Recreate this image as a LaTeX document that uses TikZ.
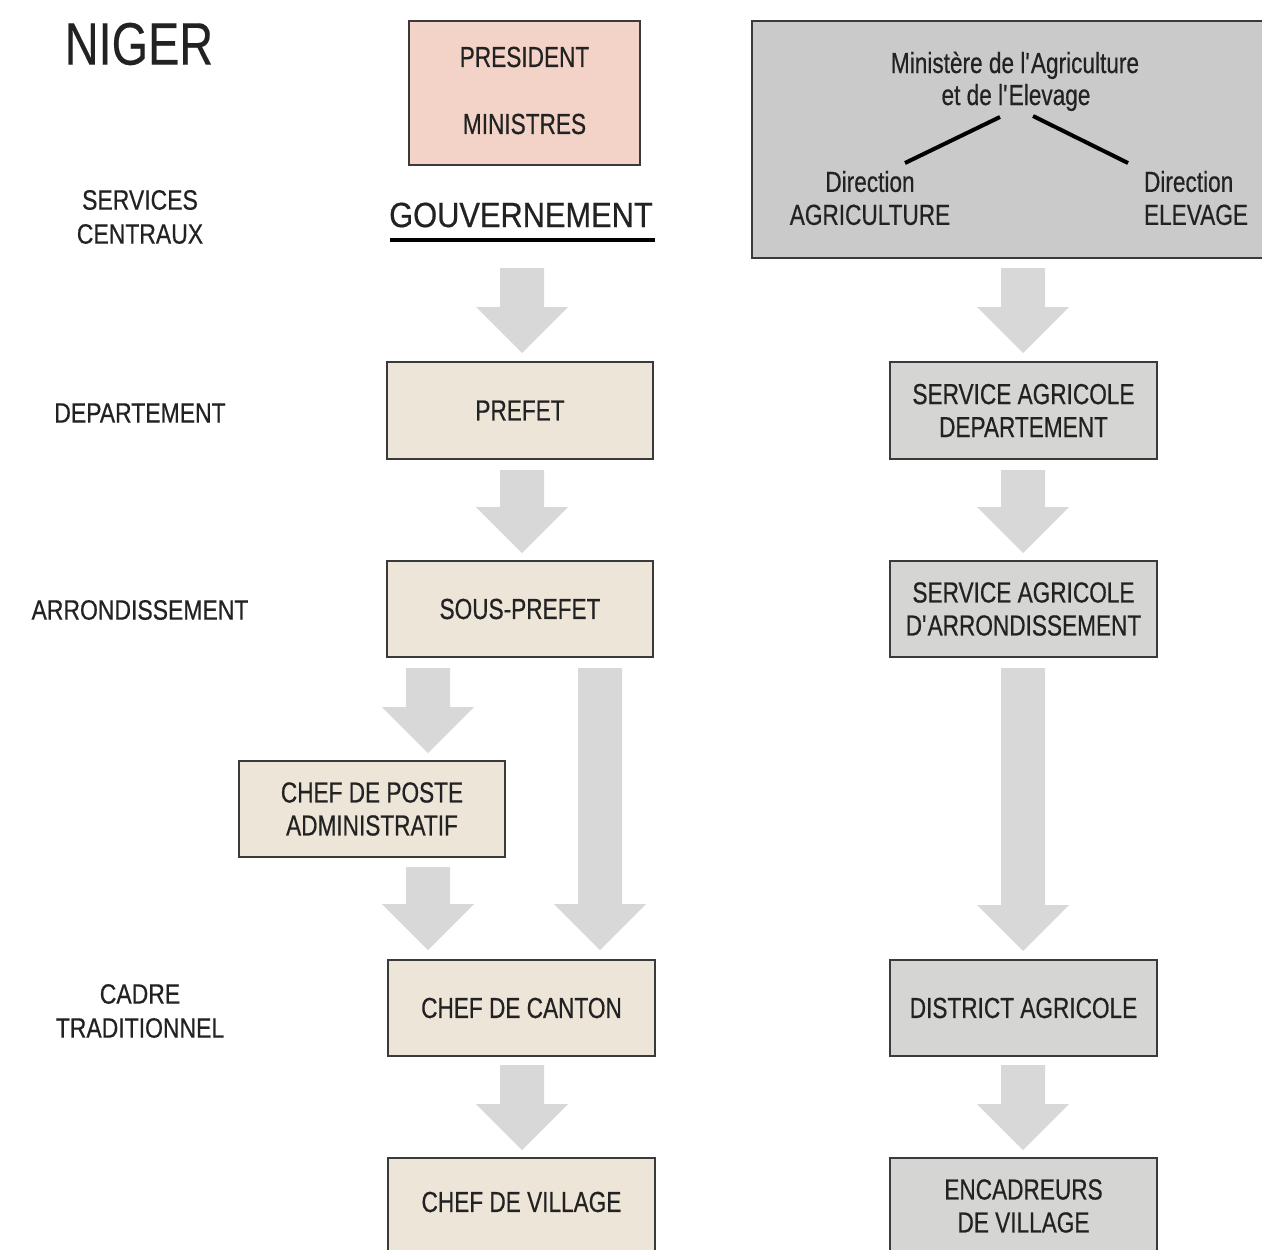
\documentclass[tikz,border=0pt]{standalone}
\usepackage{fontspec}
\setmainfont[FakeStretch=0.78,FakeBold=0.5]{Liberation Sans}
\newfontfamily\lblfamily[FakeStretch=0.82,FakeBold=0.5]{Liberation Sans}
\newfontfamily\nigerfamily[FakeStretch=0.78,FakeBold=0.3]{Liberation Sans}
\newfontfamily\govfamily[FakeStretch=0.88,FakeBold=0.5]{Liberation Sans}
\definecolor{beigebox}{HTML}{EEE5D9}
\definecolor{pinkbox}{HTML}{F3D3C8}
\definecolor{minbox}{HTML}{CACACA}
\definecolor{servbox}{HTML}{D5D6D3}
\definecolor{arrowgray}{HTML}{D8D8D8}
\definecolor{boxline}{HTML}{3A3A3A}
\definecolor{txt}{HTML}{222222}
\newcommand\boxfont{\fontsize{29}{33}\selectfont}
\newcommand\lblfont{\lblfamily\fontsize{28}{34}\selectfont}
\newcommand\barrow[3]{\fill[arrowgray] (#1-22,#2) -- (#1+22,#2) -- (#1+22,#3-46) -- (#1+46,#3-46) -- (#1,#3) -- (#1-46,#3-46) -- (#1-22,#3-46) -- cycle;}
\tikzset{
  box/.style={draw=boxline, line width=2pt, inner sep=0pt, minimum width=266pt, minimum height=96pt, text=txt, font=\boxfont, align=center},
  gbox/.style={box, fill=beigebox},
  sbox/.style={box, fill=servbox},
  lbl/.style={text=txt, align=center, inner sep=0pt, font=\lblfont},
  btxt/.style={text=txt, align=center, inner sep=0pt, font=\boxfont}
}
\begin{document}
\begin{tikzpicture}[x=1pt,y=-1pt]
\clip (0,0) rectangle (1262,1250);
\fill[white] (0,0) rectangle (1262,1250);

% left labels
\node[text=txt, inner sep=0pt, font=\nigerfamily\fontsize{60}{60}\selectfont] (niger) at (139,44) {NIGER};
\node[lbl] (serv) at (140,217) {SERVICES\\CENTRAUX};
\node[lbl] (dep) at (140,413) {DEPARTEMENT};
\node[lbl] (arr) at (140,610) {ARRONDISSEMENT};
\node[lbl] (cadre) at (140,1011) {CADRE\\TRADITIONNEL};

% arrows
\barrow{522}{268}{353}
\barrow{522}{470}{553}
\barrow{428}{668}{753}
\barrow{600}{668}{950}
\barrow{428}{867}{950}
\barrow{522}{1065}{1150}
\barrow{1023}{268}{353}
\barrow{1023}{470}{553}
\barrow{1023}{668}{951}
\barrow{1023}{1065}{1150}

% government column
\node[box, fill=pinkbox, minimum width=231pt, minimum height=144pt] (pres) at (524.5,93) {};
\node[btxt] (prest) at (524.5,57) {PRESIDENT};
\node[btxt] (mint) at (524.5,124) {MINISTRES};
\node[text=txt, inner sep=0pt, font=\govfamily\fontsize{35}{35}\selectfont] (gov) at (521,215) {GOUVERNEMENT};
\coordinate (ul1) at (390,240);
\coordinate (ul2) at (655,240);
\draw[line width=4.5pt, black] (ul1) -- (ul2);

\node[gbox, minimum height=97pt] (prefet) at (520,410.5) {PREFET};
\node[gbox] (sousp) at (520,609) {SOUS-PREFET};
\node[gbox] (poste) at (372,809) {CHEF DE POSTE\\ADMINISTRATIF};
\node[gbox, minimum width=267pt] (canton) at (521.5,1008) {CHEF DE CANTON};
\node[gbox, minimum width=267pt, minimum height=104pt] (village) at (521.5,1210) {};
\node[btxt] (villaget) at (521.5,1202) {CHEF DE VILLAGE};

% ministry column
\node[box, fill=minbox, minimum width=516pt, minimum height=237pt] (min) at (1010,139.5) {};
\node[text=txt, inner sep=0pt, font=\fontsize{29}{31}\selectfont, anchor=base] (mint1) at (1015,73) {Ministère de l\textquotesingle Agriculture};
\node[text=txt, inner sep=0pt, font=\fontsize{29}{31}\selectfont, anchor=base] (mint2) at (1016,105) {et de l\textquotesingle Elevage};
\coordinate (l1a) at (1000,117);
\coordinate (l1b) at (905,163);
\coordinate (l2a) at (1033,116);
\coordinate (l2b) at (1128,163);
\draw[line width=4pt, black] (l1a) -- (l1b);
\draw[line width=4pt, black] (l2a) -- (l2b);
\node[text=txt, inner sep=0pt, font=\fontsize{29}{33}\selectfont, align=center] (dira) at (870,198) {Direction\\AGRICULTURE};
\node[text=txt, inner sep=0pt, font=\fontsize{29}{33}\selectfont, align=left] (dire) at (1196,198) {Direction\\ELEVAGE};

\node[sbox, minimum width=267pt, minimum height=97pt] (sad) at (1023.5,410.5) {SERVICE AGRICOLE\\DEPARTEMENT};
\node[sbox, minimum width=267pt] (sadar) at (1023.5,609) {SERVICE AGRICOLE\\D\textquotesingle ARRONDISSEMENT};
\node[sbox, minimum width=267pt] (district) at (1023.5,1008) {DISTRICT AGRICOLE};
\node[sbox, minimum width=267pt, minimum height=104pt] (encad) at (1023.5,1210) {};
\node[btxt] (encadt) at (1023.5,1206) {ENCADREURS\\DE VILLAGE};
\end{tikzpicture}
\end{document}
